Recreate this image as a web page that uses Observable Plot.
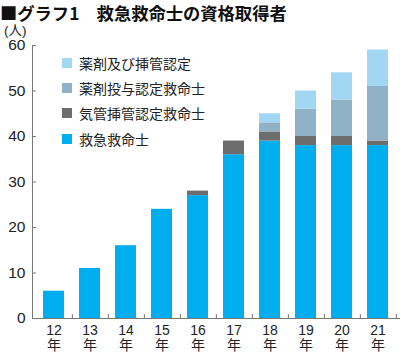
<!DOCTYPE html>
<html><head><meta charset="utf-8">
<script src="https://cdn.jsdelivr.net/npm/d3@7"></script>
<script src="https://cdn.jsdelivr.net/npm/@observablehq/plot@0.6"></script>
<style>
body{margin:0;background:#fff;}
#wrap{position:relative;width:400px;height:352px;overflow:hidden;font-family:"Liberation Sans","Noto Sans CJK JP",sans-serif;color:#222;}
#title{position:absolute;left:0;top:0;font-family:"Noto Sans CJK JP",sans-serif;font-weight:bold;font-size:17.3px;line-height:25px;white-space:pre;color:#111;}
#unit{position:absolute;left:4px;top:25px;font-size:13.5px;line-height:12px;font-family:"Liberation Sans","Noto Sans CJK JP",sans-serif;}
#legend{position:absolute;left:62px;top:50px;font-family:"Noto Sans CJK JP",sans-serif;font-size:14px;color:#222;}
#legend .row{display:flex;align-items:center;height:25.3px;}
#legend .sw{width:10px;height:10px;margin-right:7px;}
#chart{position:absolute;left:0;top:24px;}
</style></head>
<body><div id="wrap"><div id="chart"></div><div id="title"></div><div id="unit"></div><div id="legend"></div></div>
<script>
const titleText = "■グラフ1　救急救命士の資格取得者";
const unitText = "(人)";
const years = ["12","13","14","15","16","17","18","19","20","21"];
const yearSuffix = "年";
const yTicks = [0,10,20,30,40,50,60];
const seriesNames = ["救急救命士","気管挿管認定救命士","薬剤投与認定救命士","薬剤及び挿管認定"];
const seriesColors = ["#00aeef","#6d6d6d","#90b2c6","#a2d7f4"];
const kyukyu      = [6,11,16,24,27,36,39,38,38,38];
const kikan       = [0,0,0,0,1,3,2,2,2,1];
const yakuzai     = [0,0,0,0,0,0,2,6,8,12];
const yakuzaiKikan= [0,0,0,0,0,0,2,4,6,8];
const seriesValues = [kyukyu, kikan, yakuzai, yakuzaiKikan];

document.getElementById("title").textContent = titleText;
document.getElementById("unit").textContent = unitText;

const data = [];
years.forEach((yr,i)=>seriesNames.forEach((s,j)=>data.push({year:yr,type:s,value:seriesValues[j][i]})));

const W=400,H=328,mL=32,mR=1;
const step=(W-mL-mR)/years.length;
const chart = Plot.plot({
  width:W,height:H,marginTop:21,marginBottom:34,marginLeft:mL,marginRight:mR,
  style:{fontFamily:'"Liberation Sans","Noto Sans CJK JP",sans-serif',color:"#222",background:"#fff"},
  x:{domain:years,paddingInner:0.42,paddingOuter:0.21,axis:null,label:null},
  y:{domain:[0,60],axis:null,label:null},
  color:{domain:seriesNames,range:seriesColors},
  marks:[
    Plot.barY(data,{x:"year",y:"value",fill:"type"}),
    Plot.frame({anchor:"left",stroke:"#777"}),
    Plot.frame({anchor:"bottom",stroke:"#777"}),
    Plot.axisY({ticks:yTicks,tickSize:-4,tickPadding:11,stroke:"#777",fontSize:15.5,fill:"#222",label:null,tickFormat:d=>d}),
    Plot.axisX({tickSize:-4,dx:step/2,text:null,stroke:"#777",label:null}),
    Plot.axisX({tickSize:0,tickPadding:6,fontSize:14,lineHeight:1.08,fill:"#222",label:null,tickFormat:d=>d+"\n"+yearSuffix})
  ]
});
document.getElementById("chart").appendChild(chart);

const lg=document.getElementById("legend");
for(let j=seriesNames.length-1;j>=0;j--){
  const r=document.createElement("div");r.className="row";
  const sw=document.createElement("div");sw.className="sw";sw.style.background=seriesColors[j];
  const t=document.createElement("span");t.textContent=seriesNames[j];
  r.appendChild(sw);r.appendChild(t);lg.appendChild(r);
}
</script></body></html>
